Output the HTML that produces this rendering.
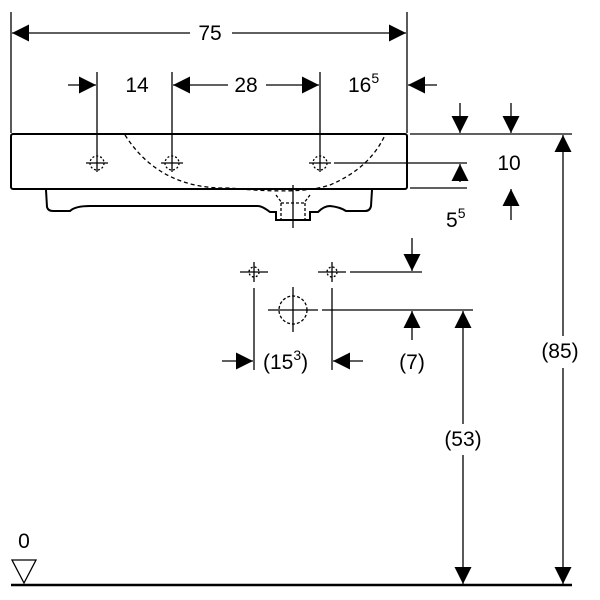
<!DOCTYPE html>
<html><head><style>body{margin:0;background:#fff}svg{display:block}text{font-family:"Liberation Sans",sans-serif;font-size:21px;fill:#000}</style></head><body>
<svg width="600" height="600" viewBox="0 0 600 600">
<defs>
<marker id="a" viewBox="0 0 10 10" refX="10" refY="5" markerWidth="17" markerHeight="17" markerUnits="userSpaceOnUse" orient="auto"><path d="M0,0L10,5L0,10z"/></marker>
</defs>
<g stroke="#000" stroke-width="1.3" fill="none">
<!-- top 75 -->
<line x1="11" y1="12" x2="11" y2="133"/><line x1="407" y1="12" x2="407" y2="133"/>
<line x1="190" y1="33" x2="12" y2="33" marker-end="url(#a)"/>
<line x1="232" y1="33" x2="406" y2="33" marker-end="url(#a)"/>
<!-- row 2 -->
<line x1="68" y1="85" x2="96" y2="85" marker-end="url(#a)"/>
<line x1="228" y1="85" x2="173" y2="85" marker-end="url(#a)"/>
<line x1="266" y1="85" x2="319" y2="85" marker-end="url(#a)"/>
<line x1="437" y1="85" x2="408" y2="85" marker-end="url(#a)"/>
<line x1="97" y1="72" x2="97" y2="172"/><line x1="172" y1="72" x2="172" y2="172"/><line x1="320" y1="72" x2="320" y2="172"/>
<!-- basin -->
<rect x="11" y="134" width="396" height="55" rx="2" stroke-width="2"/>
<path d="M46,190 L47,207 Q48,211 53,211 L70,211 Q75,206 90,206 L258,206 Q262,206 270,212 L276,212 L276,220 L310,220 L310,212 L318,212 Q324,206 330,206 Q340,207 346,211 L365,211 Q370,211 371,206 L372,190" stroke-width="2"/>
<path d="M281,203 L281,219 M305,203 L305,219 M281,203 L305,203" stroke-dasharray="3,2"/>
<line x1="293" y1="185" x2="293" y2="228"/>
<path d="M125,135 Q160,190 230,188 Q300,195 330,185 Q370,168 385,135" stroke-dasharray="4,3"/>
<path d="M276,195 L282,203 M310,195 L304,203" stroke-dasharray="3,2"/>
<!-- hole crosses -->
<g id="h">
<line x1="86" y1="163" x2="108" y2="163"/><circle cx="97" cy="163" r="7" stroke-dasharray="2,2"/>
</g>
<line x1="161" y1="163" x2="183" y2="163"/><circle cx="172" cy="163" r="7" stroke-dasharray="2,2"/>
<line x1="309" y1="163" x2="331" y2="163"/><circle cx="320" cy="163" r="7" stroke-dasharray="2,2"/>
<line x1="334" y1="163" x2="467" y2="163"/>
<!-- right top dims -->
<line x1="410" y1="134" x2="572" y2="134"/><line x1="410" y1="188" x2="467" y2="188"/>
<line x1="460" y1="103" x2="460" y2="133" marker-end="url(#a)"/>
<line x1="511" y1="103" x2="511" y2="133" marker-end="url(#a)"/>
<line x1="460" y1="182" x2="460" y2="164" marker-end="url(#a)"/>
<line x1="511" y1="220" x2="511" y2="189" marker-end="url(#a)"/>
<!-- 85 -->
<line x1="563" y1="336" x2="563" y2="135" marker-end="url(#a)"/>
<line x1="563" y1="368" x2="563" y2="584" marker-end="url(#a)"/>
<!-- 53 -->
<line x1="463" y1="424" x2="463" y2="311" marker-end="url(#a)"/>
<line x1="463" y1="455" x2="463" y2="584" marker-end="url(#a)"/>
<!-- lower holes -->
<line x1="240" y1="272" x2="268" y2="272"/><line x1="254" y1="262" x2="254" y2="282"/><circle cx="254" cy="272" r="5" stroke-dasharray="2,2"/>
<line x1="318" y1="272" x2="346" y2="272"/><line x1="332" y1="262" x2="332" y2="282"/><circle cx="332" cy="272" r="5" stroke-dasharray="2,2"/>
<line x1="350" y1="272" x2="422" y2="272"/>
<line x1="412" y1="238" x2="412" y2="271" marker-end="url(#a)"/>
<circle cx="293" cy="310" r="14" stroke-dasharray="3,2"/>
<line x1="268" y1="310" x2="318" y2="310"/><line x1="293" y1="287" x2="293" y2="332"/>
<line x1="322" y1="310" x2="473" y2="310"/>
<line x1="412" y1="340" x2="412" y2="311" marker-end="url(#a)"/>
<line x1="254" y1="288" x2="254" y2="370"/><line x1="332" y1="288" x2="332" y2="370"/>
<line x1="222" y1="361" x2="253" y2="361" marker-end="url(#a)"/>
<line x1="363" y1="361" x2="333" y2="361" marker-end="url(#a)"/>
<!-- ground -->
<line x1="11" y1="585" x2="572" y2="585" stroke-width="2.5"/>
<path d="M12,560 L36,560 L24,583 Z"/>
</g>
<text x="210" y="40" text-anchor="middle">75</text>
<text x="137" y="92" text-anchor="middle">14</text>
<text x="246" y="92" text-anchor="middle">28</text>
<text x="348" y="92">16<tspan dy="-9" font-size="14">5</tspan></text>
<text x="509" y="170" text-anchor="middle">10</text>
<text x="446" y="227">5<tspan dy="-9" font-size="14">5</tspan></text>
<text x="560" y="358" text-anchor="middle">(85)</text>
<text x="463" y="446" text-anchor="middle">(53)</text>
<text x="263" y="369">(15<tspan dy="-9" font-size="14">3</tspan><tspan dy="9">)</tspan></text>
<text x="412" y="369" text-anchor="middle">(7)</text>
<text x="24" y="548" text-anchor="middle">0</text>
</svg>
</body></html>
